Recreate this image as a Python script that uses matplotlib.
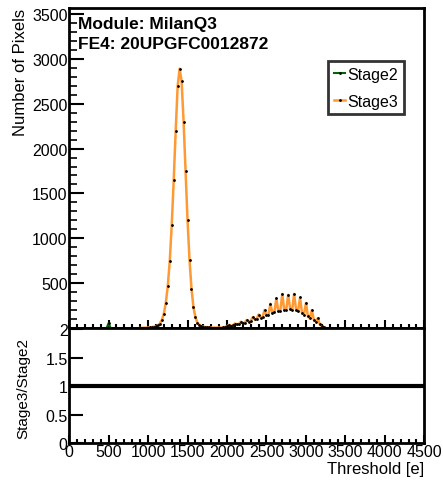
import matplotlib.pyplot as plt
from matplotlib.ticker import MultipleLocator, FixedLocator

plt.rcParams['font.family'] = ['Liberation Sans', 'DejaVu Sans']

# Stage3 histogram (threshold in e, number of pixels)
thr = [900, 925, 950, 975, 1000, 1025, 1050, 1075, 1100, 1125, 1150, 1175, 1200, 1225,
       1250, 1275, 1300, 1325, 1350, 1375, 1400, 1425, 1450, 1475, 1500, 1525, 1550,
       1575, 1600, 1625, 1650, 1675, 1700, 1725, 1750, 1775, 1800, 1825, 1850, 1875,
       1900, 1925, 1950, 1975, 2000, 2025, 2050, 2075, 2100, 2125, 2150, 2175, 2200,
       2225, 2250, 2275, 2300, 2325, 2350, 2375, 2400, 2425, 2450, 2475, 2500, 2525,
       2550, 2575, 2600, 2625, 2650, 2675, 2700, 2725, 2750, 2775, 2800, 2825, 2850,
       2875, 2900, 2925, 2950, 2975, 3000, 3025, 3050, 3075, 3100, 3125, 3150, 3175,
       3200, 3225, 3250]
stage3 = [0, 2, 3, 4, 5, 8, 10, 15, 20, 30, 50, 90, 160, 280,
          470, 750, 1150, 1650, 2200, 2700, 2890, 2750, 2300, 1750, 1200, 760, 440,
          230, 120, 60, 35, 20, 15, 10, 8, 6, 5, 5, 5, 5,
          5, 5, 8, 12, 20, 35, 25, 30, 50, 40, 45, 70, 55,
          60, 90, 70, 80, 120, 95, 100, 150, 115, 125, 200, 140, 150,
          270, 165, 175, 330, 185, 190, 380, 200, 205, 370, 210, 200, 380,
          200, 185, 340, 165, 150, 280, 130, 110, 200, 90, 70, 110, 40,
          20, 10, 0]

# Stage2 only shows a small blip near 500 e
thr2 = [475, 500, 525]
stage2 = [0, 55, 0]

ratio_x = [0, 4500]
ratio_y = [1.0, 1.0]

orange = '#ff9933'
green = '#006600'

fig = plt.figure(figsize=(4.43, 4.81), dpi=100)
ax = fig.add_axes([0.156, 0.316, 0.802, 0.665])
axr = fig.add_axes([0.156, 0.077, 0.802, 0.239])

ax.plot(thr2, stage2, color=green, lw=1.5, marker='.', ms=2, mfc='k', mec='k')
ax.plot(thr, stage3, color=orange, lw=1.8, marker='.', ms=2.0, mfc='k', mec='k',
        zorder=3)

ax.set_xlim(0, 4500)
ax.set_ylim(0, 3565)
ax.set_ylabel('Number of Pixels', fontsize=12, loc='top', labelpad=3)
ax.yaxis.set_major_locator(FixedLocator([500, 1000, 1500, 2000, 2500, 3000, 3500]))
ax.yaxis.set_minor_locator(MultipleLocator(100))
ax.xaxis.set_major_locator(MultipleLocator(500))
ax.xaxis.set_minor_locator(MultipleLocator(100))
ax.tick_params(axis='x', which='both', direction='in', labelbottom=False)
ax.tick_params(axis='x', which='major', length=6, width=1.5)
ax.tick_params(axis='x', which='minor', length=3, width=1.5)
ax.tick_params(axis='y', which='major', direction='in', length=11, width=1.5,
               labelsize=11.5, pad=1)
ax.tick_params(axis='y', which='minor', direction='in', length=6, width=1.2)
for s in ax.spines.values():
    s.set_linewidth(2)

ax.text(0.025, 0.952, 'Module: MilanQ3', transform=ax.transAxes, fontsize=12.5,
        fontweight='bold', va='center')
ax.text(0.025, 0.89, 'FE4: 20UPGFC0012872', transform=ax.transAxes, fontsize=12.5,
        fontweight='bold', va='center')

leg = ax.legend(['Stage2', 'Stage3'], loc='upper left', bbox_to_anchor=(0.73, 0.834),
                fontsize=11.5, frameon=True, fancybox=False, handlelength=0.7,
                handletextpad=0.15, borderpad=0.35, labelspacing=0.75, borderaxespad=0)
leg.get_frame().set_edgecolor('k')
leg.get_frame().set_linewidth(2)

axr.plot(ratio_x, ratio_y, color='k', lw=3)
axr.set_xlim(0, 4500)
axr.set_ylim(0, 2.02)
axr.set_ylabel('Stage3/Stage2', fontsize=11)
axr.yaxis.set_label_coords(-0.11, 0.48)
axr.set_xlabel('Threshold [e]', fontsize=12, loc='right', labelpad=1)
axr.xaxis.set_major_locator(MultipleLocator(500))
axr.xaxis.set_minor_locator(MultipleLocator(100))
axr.yaxis.set_major_locator(FixedLocator([0, 0.5, 1, 1.5, 2]))
axr.set_yticklabels(['0', '0.5', '1', '1.5', '2'])
axr.tick_params(axis='x', which='major', direction='in', length=6, width=1.5,
                labelsize=11.5, pad=1)
axr.tick_params(axis='x', which='minor', direction='in', length=3, width=1.5)
axr.tick_params(axis='y', which='major', direction='in', length=10, width=1.5,
                labelsize=11.5, pad=1)
for s in axr.spines.values():
    s.set_linewidth(2)

fig.savefig('out.png', dpi=100)
